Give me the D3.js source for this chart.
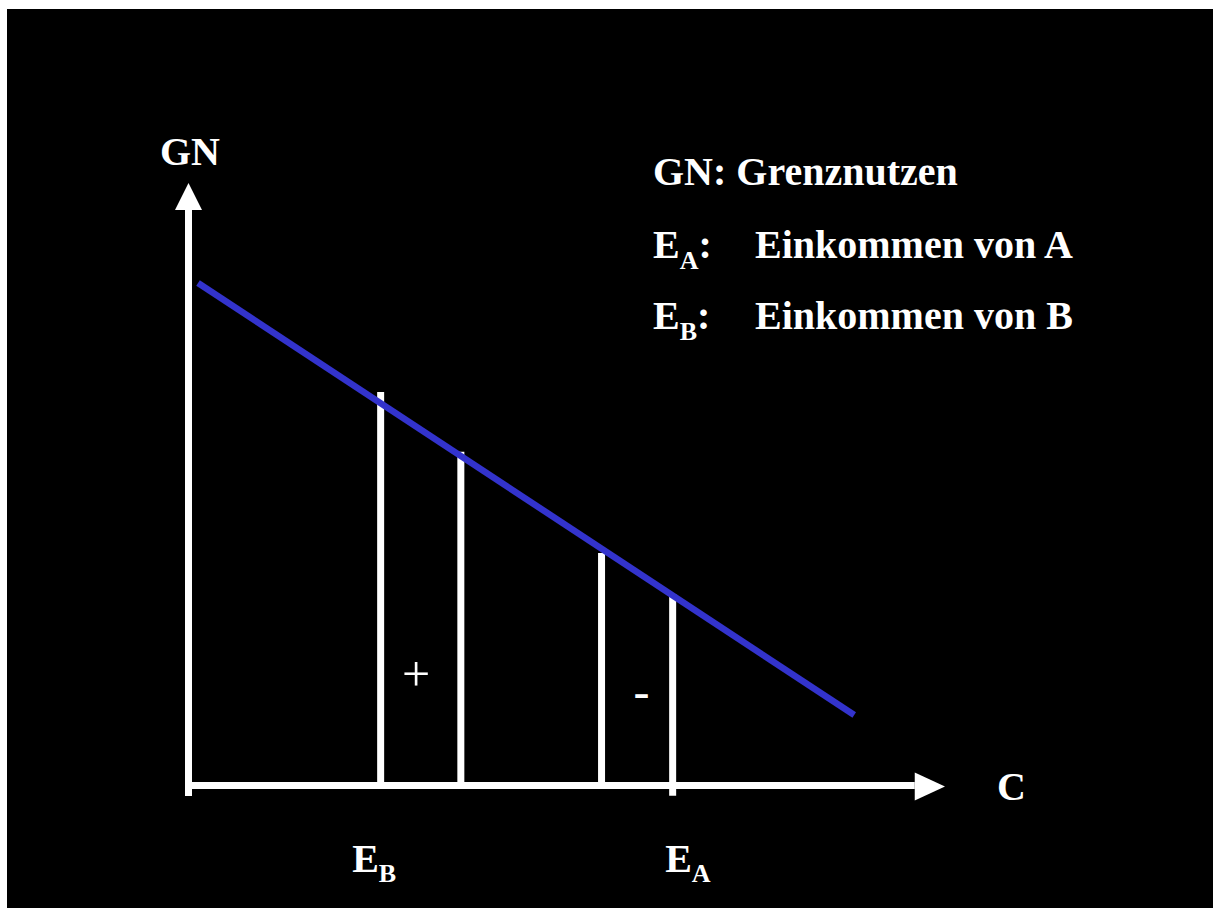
<!DOCTYPE html>
<html>
<head>
<meta charset="utf-8">
<script src="https://cdn.jsdelivr.net/npm/d3@7/dist/d3.min.js"></script>
<style>
  html, body { margin: 0; padding: 0; background: #ffffff; overflow: hidden; }
  svg { display: block; }
</style>
</head>
<body>
<script>
// ---- data ----
const gnLine = [ { c: 1.26, gn: 83.4 }, { c: 88.0, gn: 11.7 } ];   // marginal utility (Grenznutzen)
const incomeCuts = [ 25.4, 36.0, 54.6, 64.0 ];                      // C positions of vertical lines
const incomeTops = [ 65.3, 55.4, 38.6, 31.8 ];                      // GN heights of vertical lines
const incomeBottoms = [ 0, 0, 0, -1.7 ];
const axisLabels = { y: "GN", x: "C" };
const tickLabels = [ { main: "E", sub: "B" }, { main: "E", sub: "A" } ];
const legendRows = [
  { main: "GN: Grenznutzen", sub: "", rest: "" },
  { main: "E", sub: "A", rest: "Einkommen von A" },
  { main: "E", sub: "B", rest: "Einkommen von B" }
];
const signLabels = [ "+", "-" ];

// ---- setup ----
const W = 1213, H = 908;
const font = "'Liberation Serif', 'Times New Roman', serif";
const svg = d3.select("body").append("svg").attr("width", W).attr("height", H);
svg.append("rect").attr("x", 7).attr("y", 9).attr("width", W - 7).attr("height", H - 9).attr("fill", "#000");

const x = d3.scaleLinear().domain([0, 100]).range([188.5, 945]);
const y = d3.scaleLinear().domain([0, 100]).range([785.5, 183]);

const white = "#ffffff";
const blue = "rgb(51,51,204)";

// ---- axes ----
// y axis
svg.append("line")
  .attr("x1", x(0)).attr("x2", x(0))
  .attr("y1", y(-1.75)).attr("y2", y(95.5))
  .attr("stroke", white).attr("stroke-width", 7);
svg.append("path")
  .attr("d", d3.line()([[x(0), y(100)], [x(0) - 13.5, y(95.5)], [x(0) + 13.5, y(95.5)]]) + "Z")
  .attr("fill", white);
// x axis
svg.append("line")
  .attr("x1", x(-0.45)).attr("x2", x(96))
  .attr("y1", y(0)).attr("y2", y(0))
  .attr("stroke", white).attr("stroke-width", 7);
svg.append("path")
  .attr("d", d3.line()([[x(100), y(0) + 1], [x(96), y(0) - 13], [x(96), y(0) + 15]]) + "Z")
  .attr("fill", white);

// ---- vertical income lines ----
svg.selectAll("line.cut").data(incomeCuts).enter().append("line")
  .attr("class", "cut")
  .attr("x1", d => x(d)).attr("x2", d => x(d))
  .attr("y1", (d, i) => y(incomeBottoms[i])).attr("y2", (d, i) => y(incomeTops[i]))
  .attr("stroke", white).attr("stroke-width", 7);

// ---- marginal utility line ----
svg.append("path")
  .datum(gnLine)
  .attr("d", d3.line().x(d => x(d.c)).y(d => y(d.gn)))
  .attr("fill", "none").attr("stroke", blue).attr("stroke-width", 6.5);

// ---- text ----
function bold(sel) {
  return sel.attr("fill", white).attr("font-family", font).attr("font-weight", "bold");
}

// axis labels
bold(svg.append("text")).attr("x", x(0) + 1.5).attr("y", 165).attr("text-anchor", "middle")
  .attr("font-size", 40).text(axisLabels.y);
bold(svg.append("text")).attr("x", 997).attr("y", 800)
  .attr("font-size", 40).text(axisLabels.x);

// tick labels under E_B and E_A
const tickOffsets = [-28.5, -7.5];
const tickIdx = [0, 3];
tickLabels.forEach((t, i) => {
  const tx = bold(svg.append("text")).attr("x", x(incomeCuts[tickIdx[i]]) + tickOffsets[i]).attr("y", 872)
    .attr("font-size", 40);
  tx.append("tspan").text(t.main);
  tx.append("tspan").attr("font-size", 26).attr("dy", 10).text(t.sub);
});

// sign labels
svg.append("text").attr("x", 416).attr("y", 691).attr("text-anchor", "middle")
  .attr("fill", white).attr("font-family", font).attr("font-size", 50).text(signLabels[0]);
svg.append("text").attr("x", 641.5).attr("y", 708).attr("text-anchor", "middle")
  .attr("fill", white).attr("font-family", font).attr("font-size", 48).text(signLabels[1]);

// legend
const legendY = [185, 258, 329];
legendRows.forEach((r, i) => {
  const t = bold(svg.append("text")).attr("x", 653).attr("y", legendY[i]).attr("font-size", 40);
  t.append("tspan").text(r.main);
  if (r.sub) {
    t.append("tspan").attr("font-size", 26).attr("dy", 11).text(r.sub);
    t.append("tspan").attr("dy", -11).text(":");
    bold(svg.append("text")).attr("x", 755).attr("y", legendY[i]).attr("font-size", 40).text(r.rest);
  }
});
</script>
</body>
</html>
